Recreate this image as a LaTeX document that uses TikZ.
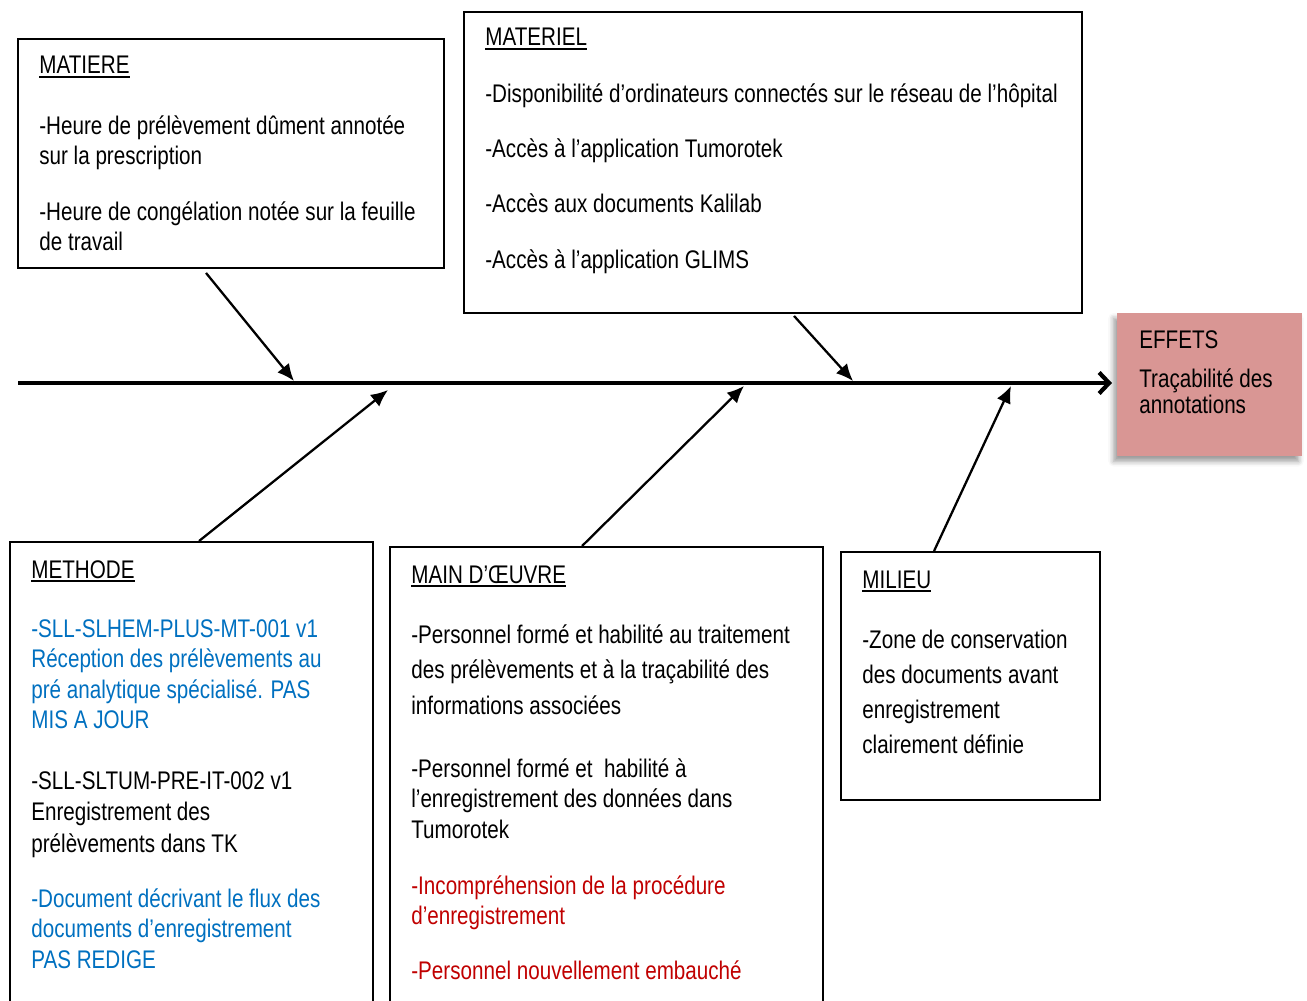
\documentclass[tikz,border=0pt]{standalone}
\usepackage{fontspec}
\setmainfont{Liberation Sans}[FakeStretch=0.81]
\usetikzlibrary{arrows.meta,fit,shadows.blur}
\definecolor{bluetxt}{HTML}{0070C0}
\definecolor{redtxt}{HTML}{C00000}
\definecolor{effectfill}{HTML}{D99694}
\newcommand\ulx[1]{\setbox0\hbox{#1}\rlap{\rule[-2.2pt]{\wd0}{0.9pt}}\box0}
\newcommand\para[6]{%
  \foreach \s [count=\i] in {#6}
    \node[txt,text=#5] (#1\i) at (#2,{#3+(\i-1)*#4}) {\s};}
\begin{document}
\begin{tikzpicture}[x=0.02cm,y=-0.02cm,
  box/.style={draw, line width=1.1pt, inner sep=0pt},
  effbox/.style={fill=effectfill, inner sep=0pt,
    blur shadow={shadow xshift=-2pt, shadow yshift=-3pt, shadow blur radius=3pt}},
  txt/.style={anchor=base west, inner sep=0pt, font=\fontsize{14.5}{17}\selectfont},
  efftxt/.style={anchor=base west, inner sep=0pt, font=\fontsize{14.5}{16}\selectfont},
  arr/.style={line width=1.3pt, -{Latex[length=0.34cm,width=0.3cm]}},
  spine/.style={line width=2.4pt, -{Straight Barb[length=0.2cm,width=0.42cm]}}]
\useasboundingbox (0,0) rectangle (1307,1000);

% boxes
\node[box, fit={(18,39) (444,268)}] (matiere) {};
\node[box, fit={(464,12) (1082,313)}] (materiel) {};
\node[box, fit={(10,542) (373,1012)}] (methode) {};
\node[box, fit={(390,547) (823,1012)}] (main) {};
\node[box, fit={(841,552) (1100,800)}] (milieu) {};
\node[effbox, fit={(1117,313) (1302,456)}] (effets) {};

% spine
\coordinate (sl) at (18,383);
\coordinate (sr) at (1112,383);
\draw[spine] (sl) -- (sr);

% connectors
\coordinate (p1) at (294,381);
\coordinate (p2) at (853,381);
\coordinate (p3) at (388,390);
\coordinate (p4) at (744,386);
\coordinate (p5) at (1011,386);
\draw[arr] ([shift={(189,4)}]matiere.south west) -- (p1);
\draw[arr] ([shift={(331,2)}]materiel.south west) -- (p2);
\draw[arr] ([shift={(190,0)}]methode.north west) -- (p3);
\draw[arr] ([shift={(193,0)}]main.north west) -- (p4);
\draw[arr] ([shift={(94,0)}]milieu.north west) -- (p5);

% MATIERE
\node[txt] (matiereT) at (39,74) {\ulx{MATIERE}};
\para{mA}{39}{135}{30}{black}{{-Heure de prélèvement dûment annotée},{sur la prescription}}
\para{mB}{39}{220}{30}{black}{{-Heure de congélation notée sur la feuille},{de travail}}

% MATERIEL
\node[txt] (materielT) at (485,46) {\ulx{MATERIEL}};
\para{tA}{485}{103}{55}{black}{{-Disponibilité d’ordinateurs connectés sur le réseau de l’hôpital},{-Accès à l’application Tumorotek},{-Accès aux documents Kalilab},{-Accès à l’application GLIMS}}

% METHODE
\node[txt] (methodeT) at (31,578) {\ulx{METHODE}};
\para{eA}{31}{637}{30.5}{bluetxt}{{-SLL-SLHEM-PLUS-MT-001 v1},{Réception des prélèvements au},{pré analytique spécialisé. PAS},{MIS A JOUR}}
\para{eB}{31}{789}{31.5}{black}{{-SLL-SLTUM-PRE-IT-002 v1},{Enregistrement des},{prélèvements dans TK}}
\para{eC}{31}{907}{30.5}{bluetxt}{{-Document décrivant le flux des},{documents d’enregistrement},{PAS REDIGE}}

% MAIN D'OEUVRE
\node[txt] (mainT) at (411,583) {\ulx{MAIN D’ŒUVRE}};
\para{wA}{411}{643}{35.5}{black}{{-Personnel formé et habilité au traitement},{des prélèvements et à la traçabilité des},{informations associées}}
\para{wB}{411}{777}{30.5}{black}{{-Personnel formé et\ \ habilité à},{l’enregistrement des données dans},{Tumorotek}}
\para{wC}{411}{894}{30}{redtxt}{{-Incompréhension de la procédure},{d’enregistrement}}
\para{wD}{411}{979}{30}{redtxt}{{-Personnel nouvellement embauché}}

% MILIEU
\node[txt] (milieuT) at (862,588) {\ulx{MILIEU}};
\para{lA}{862}{648}{35.3}{black}{{-Zone de conservation},{des documents avant},{enregistrement},{clairement définie}}

% EFFETS
\node[efftxt] (effT) at (1139,348) {EFFETS};
\node[efftxt] (eff1) at (1139,387) {Traçabilité des};
\node[efftxt] (eff2) at (1139,413) {annotations};
\end{tikzpicture}
\end{document}
